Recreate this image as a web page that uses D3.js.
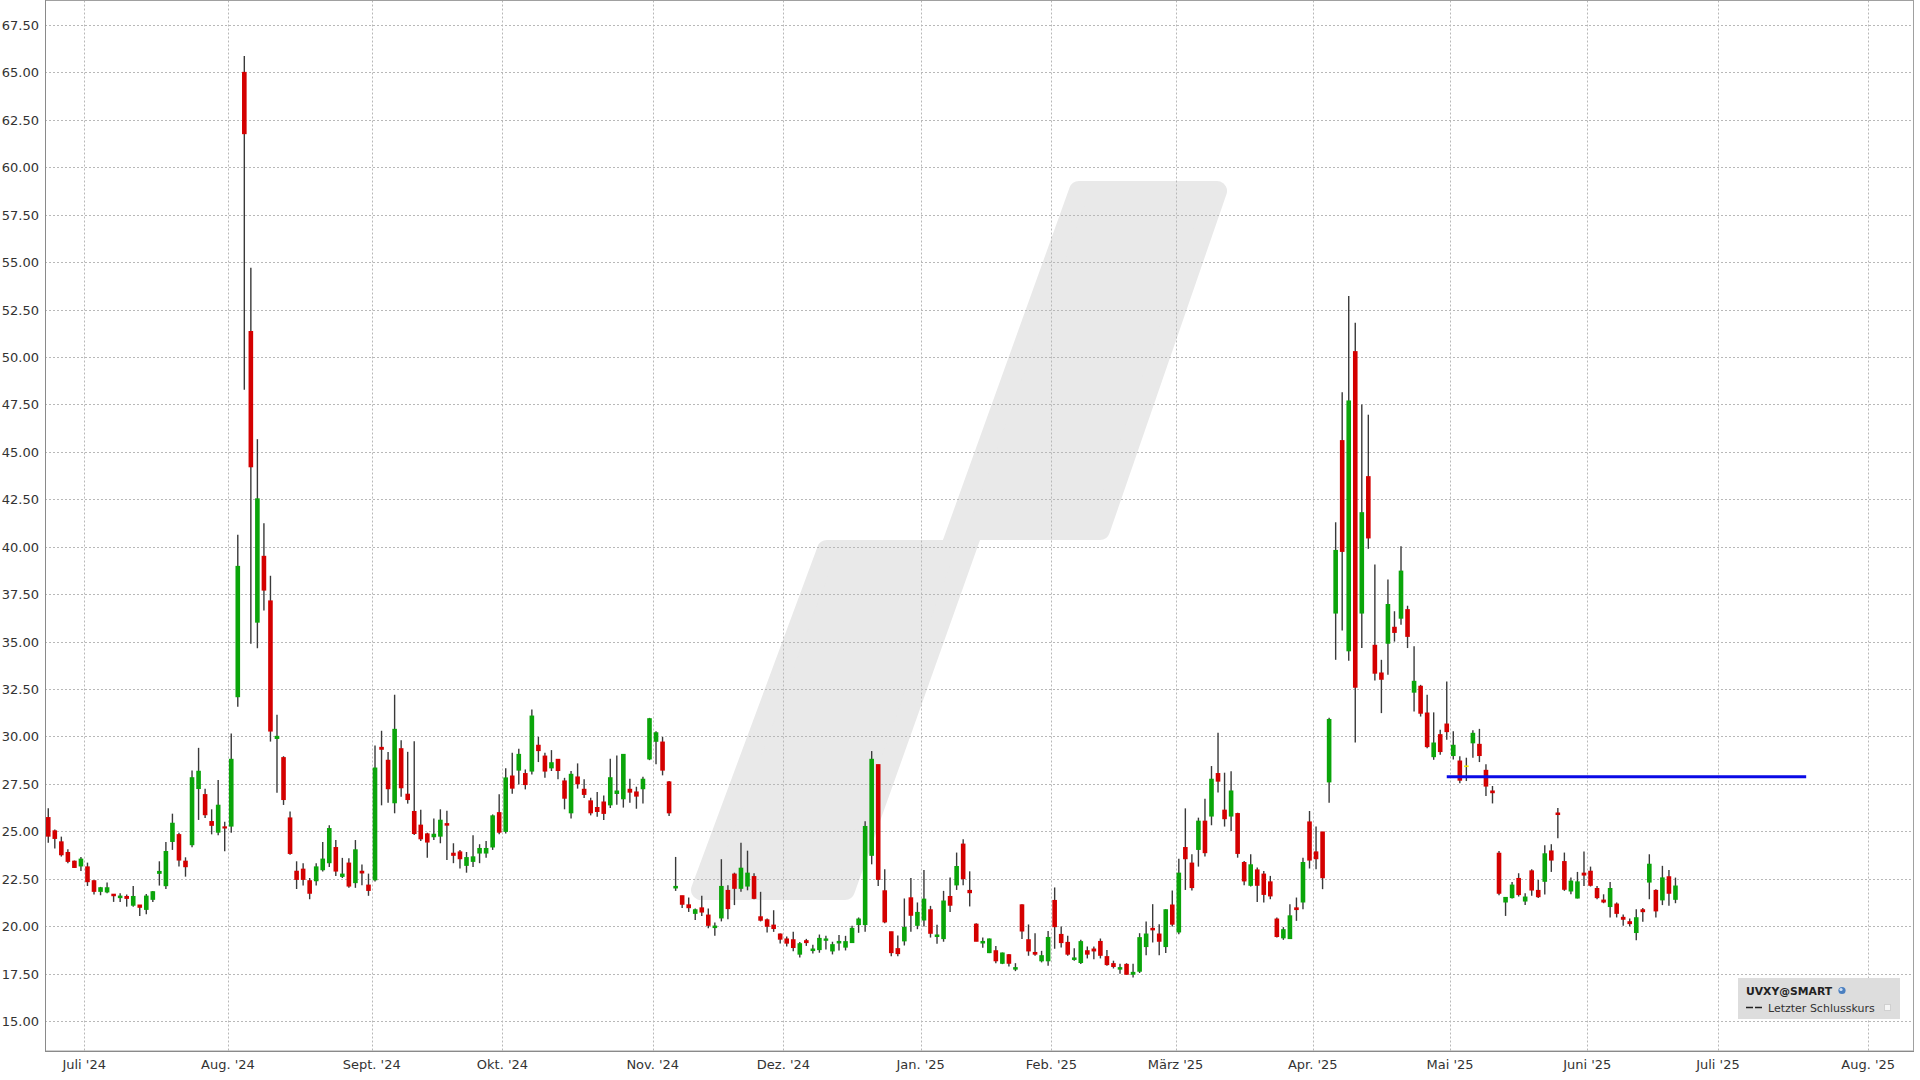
<!DOCTYPE html>
<html><head><meta charset="utf-8">
<script src="https://cdn.jsdelivr.net/npm/d3@7"></script>
<style>html,body{margin:0;padding:0;background:#fff;} svg{display:block;font-family:"DejaVu Sans",Verdana,sans-serif;}</style>
</head><body>
<svg id="chart" width="1920" height="1080"></svg>
<script>
// ---- DATA ----
const tradingDays = [
 ["2024-06", [21,24,25,26,27,28]],
 ["2024-07", [1,2,3,5,8,9,10,11,12,15,16,17,18,19,22,23,24,25,26,29,30,31]],
 ["2024-08", [1,2,5,6,7,8,9,12,13,14,15,16,19,20,21,22,23,26,27,28,29,30]],
 ["2024-09", [3,4,5,6,9,10,11,12,13,16,17,18,19,20,23,24,25,26,27,30]],
 ["2024-10", [1,2,3,4,7,8,9,10,11,14,15,16,17,18,21,22,23,24,25,28,29,30,31]],
 ["2024-11", [1,4,5,6,7,8,11,12,13,14,15,18,19,20,21,22,25,26,27,29]],
 ["2024-12", [2,3,4,5,6,9,10,11,12,13,16,17,18,19,20,23,24,26,27,30,31]],
 ["2025-01", [2,3,6,7,8,10,13,14,15,16,17,21,22,23,24,27,28,29,30,31]],
 ["2025-02", [3,4,5,6,7,10,11,12,13,14,18,19,20,21,24,25,26,27,28]],
 ["2025-03", [3,4,5,6,7,10,11,12,13,14,17,18,19,20,21,24,25,26,27,28,31]],
 ["2025-04", [1,2,3,4,7,8,9,10,11,14,15,16,17,21,22,23,24,25,28,29,30]],
 ["2025-05", [1,2,5,6,7,8,9,12,13,14,15,16,19,20,21,22,23,27,28,29,30]],
 ["2025-06", [2,3,4,5,6,9,10,11,12,13,16,17,18,20]]
];
// empty axis slots after the last candle
const futureDays = [
 ["2025-06", [23,24,25,26,27,30]],
 ["2025-07", [1,2,3,4,7,8,9,10,11,14,15,16,17,18,21,22,23,24,25,28,29,30,31]],
 ["2025-08", [1,4,5,6,7,8,11]]
];

const opens = [
 25.72,25.02,24.44,23.88,23.42,23.18,
 23.12,22.39,21.84,21.81,21.68,21.51,21.56,21.11,21.11,20.89,21.42,22.79,22.14,24.47,24.82,23.42,24.30,27.26,26.93,25.51,24.96,25.23,
 25.28,32.10,65.00,51.34,36.03,39.49,37.14,29.90,28.88,25.70,22.89,23.00,22.39,22.40,22.98,23.35,24.14,22.63,23.32,22.30,22.89,22.16,
 22.45,29.42,28.74,26.51,29.35,26.95,26.04,25.32,24.86,24.72,24.75,25.40,23.84,23.91,23.21,23.42,23.86,23.86,24.18,25.98,
 25.00,27.91,28.23,28.04,28.18,29.53,28.96,28.35,28.79,27.65,25.98,27.86,27.21,26.60,26.25,26.54,26.40,27.00,26.72,27.21,27.07,27.25,28.82,
 29.75,29.70,27.60,22.02,21.60,21.12,20.68,20.96,20.58,19.93,20.44,21.88,22.74,22.00,22.12,22.61,20.49,20.33,20.05,19.58,
 19.32,19.28,18.53,19.23,18.72,18.77,19.26,18.70,19.12,18.90,19.14,20.09,20.09,23.74,28.51,21.86,19.70,18.81,19.23,21.49,20.05,
 20.33,20.86,19.46,19.35,21.56,22.18,24.32,21.88,20.10,19.12,18.61,18.70,18.05,18.49,17.74,21.12,19.28,18.61,18.18,18.18,
 21.35,19.56,19.14,18.25,18.09,18.70,18.79,19.19,18.39,18.02,17.74,17.98,17.47,17.63,18.93,19.88,19.58,18.93,21.11,
 19.70,24.14,23.32,24.05,25.53,25.81,28.04,26.11,25.81,25.93,23.35,22.16,22.96,22.74,22.33,20.37,19.39,19.35,20.96,21.28,25.49,
 23.91,24.96,27.61,36.51,45.59,34.52,50.28,36.51,43.69,34.80,33.34,34.92,35.75,36.24,36.68,32.34,32.64,31.23,28.94,30.09,30.65,
 29.00,28.70,28.44,29.67,29.58,28.21,27.12,23.84,21.28,21.51,22.51,21.33,22.91,21.88,22.37,23.96,25.96,23.40,21.86,21.49,22.79,
 22.89,21.98,21.37,21.04,21.16,20.46,20.23,19.67,20.86,22.33,21.88,21.39,22.60,21.42
];
const highs = [
 26.21,25.10,24.72,24.05,23.46,23.65,
 23.35,22.42,22.07,22.30,21.68,21.74,21.67,22.12,21.11,21.70,21.86,23.42,24.44,25.93,24.93,23.63,28.21,29.40,27.25,26.16,27.70,25.51,
 30.16,40.63,65.87,54.70,45.67,41.24,38.47,31.15,28.96,26.05,23.42,23.32,22.54,23.32,24.44,25.32,24.54,23.60,23.58,24.54,23.25,22.77,
 29.53,30.30,29.18,32.20,29.80,29.19,29.75,26.14,24.93,25.67,26.16,26.09,24.37,24.02,23.91,24.79,24.32,24.49,25.89,26.95,
 28.32,29.14,29.35,28.26,31.42,29.98,29.14,29.28,28.79,27.82,28.18,28.58,27.74,26.77,27.07,26.89,28.82,29.00,29.05,27.77,27.35,27.88,30.98,
 30.28,29.98,27.65,23.65,21.60,21.51,20.93,21.60,20.93,20.19,23.53,22.16,22.82,24.40,23.98,22.79,21.81,20.40,20.84,19.61,
 19.46,19.70,19.16,19.33,19.02,19.56,19.49,19.18,19.53,19.49,20.02,20.46,25.53,29.23,28.51,23.00,19.70,19.51,21.46,22.54,21.25,
 22.96,21.07,20.07,21.86,22.56,23.88,24.58,22.89,20.16,19.40,19.35,18.96,18.61,18.53,18.05,21.16,20.09,19.63,18.70,19.75,
 22.04,19.98,19.49,18.84,19.28,18.93,18.93,19.35,18.75,18.18,18.02,18.05,18.02,19.63,20.25,21.16,20.10,20.89,21.88,
 23.56,26.21,23.79,25.72,26.72,28.44,30.19,28.09,28.16,25.98,23.44,23.79,23.09,22.91,22.65,20.46,19.95,21.16,21.51,23.60,26.07,
 25.25,24.96,30.98,41.29,48.15,53.22,51.81,47.50,46.96,39.06,34.04,38.27,36.60,40.03,36.89,34.75,32.72,32.20,31.27,30.35,32.90,
 30.28,28.96,28.88,30.33,30.40,28.53,27.39,23.96,21.51,22.33,22.79,21.74,23.00,22.44,24.26,24.32,26.23,23.88,22.56,22.86,23.93,
 23.14,22.12,21.68,22.33,21.25,20.61,20.40,20.89,20.96,23.79,21.95,23.18,22.96,22.56
];
const lows = [
 24.40,24.09,23.67,23.32,23.07,22.91,
 22.12,21.67,21.63,21.74,21.28,21.28,21.03,21.03,20.54,20.63,21.28,22.14,21.96,24.02,23.14,22.61,24.16,25.60,25.70,24.84,24.79,23.95,
 24.93,31.57,48.28,34.89,34.65,36.64,29.73,27.03,26.39,23.77,21.96,22.14,21.42,22.14,22.88,23.12,22.65,22.54,22.02,22.02,22.16,21.60,
 22.35,26.37,26.51,25.95,26.82,26.46,24.81,24.49,23.61,24.54,24.37,23.49,23.32,23.04,22.82,23.12,23.32,23.61,24.02,24.84,
 24.89,26.98,27.47,27.21,28.00,28.65,27.82,28.18,27.74,26.16,25.67,27.25,26.75,25.84,25.77,25.60,26.23,26.40,26.25,26.51,26.19,26.47,28.75,
 28.53,27.95,25.81,21.86,20.96,20.75,20.33,20.54,19.89,19.49,20.25,20.37,21.11,21.81,21.89,21.42,20.25,19.67,19.70,19.09,
 18.93,18.68,18.35,18.96,18.56,18.60,18.77,18.51,18.72,18.72,19.11,19.65,19.70,23.26,22.12,20.16,18.42,18.42,18.98,19.70,19.84,
 19.98,19.40,19.07,19.18,20.75,21.91,22.16,21.04,19.21,18.86,18.58,18.05,18.00,17.88,17.63,19.32,18.44,18.44,18.09,17.91,
 18.81,18.88,18.44,18.18,18.00,18.30,18.26,18.30,17.91,17.77,17.49,17.44,17.30,17.53,18.47,19.14,18.47,18.58,19.98,
 19.58,21.91,21.88,23.14,23.67,25.32,27.04,25.25,25.02,23.61,22.16,22.09,21.28,21.25,21.42,19.40,19.28,19.32,20.28,20.89,23.04,
 23.00,21.95,26.51,34.04,35.59,33.99,29.68,34.66,39.89,32.95,31.23,33.25,35.00,35.89,34.66,31.32,31.05,29.38,28.77,29.03,29.82,
 28.79,27.53,27.65,28.88,28.65,26.86,26.47,21.63,20.54,21.46,21.56,21.11,21.60,21.49,21.67,22.86,24.63,21.86,21.68,21.46,22.12,
 22.09,21.42,21.21,20.46,20.46,20.02,19.98,19.26,20.23,21.42,20.46,21.11,21.07,21.21
];
const closes = [
 24.75,24.63,23.77,23.42,23.10,23.53,
 22.35,21.84,22.02,22.02,21.61,21.58,21.47,21.56,21.00,21.58,21.81,22.88,23.93,25.42,23.49,23.14,27.82,28.16,25.88,25.32,26.37,25.18,
 28.79,38.96,61.78,44.22,42.52,37.72,30.29,30.00,26.68,23.84,22.47,22.47,21.74,23.12,23.53,25.14,22.91,22.74,22.12,24.02,22.81,21.89,
 28.33,29.33,27.25,30.37,27.30,26.68,24.89,24.61,24.44,24.84,25.58,25.33,23.74,23.56,23.61,23.65,24.09,24.09,25.81,24.96,
 27.81,27.28,29.05,27.47,31.07,29.26,28.18,28.61,28.21,26.75,28.00,27.51,26.95,25.98,26.05,25.95,27.82,27.12,29.05,27.07,26.86,27.74,30.93,
 30.19,28.23,25.98,22.09,21.16,20.98,20.86,20.75,20.05,20.00,22.09,20.93,22.00,23.05,22.79,21.47,20.32,20.00,19.88,19.32,
 19.11,18.88,19.07,19.14,18.79,19.35,19.32,19.02,19.19,19.18,19.88,20.37,25.25,28.79,22.47,20.23,18.61,18.56,19.93,20.58,20.72,
 21.42,19.63,19.53,21.32,21.11,23.14,22.51,21.77,19.21,19.19,19.32,18.18,18.58,18.05,17.81,19.75,18.70,18.53,18.44,19.40,
 19.98,19.14,18.53,18.32,19.18,18.53,18.70,18.47,17.98,17.88,17.81,17.47,17.56,19.39,19.58,19.81,19.21,20.86,20.11,
 22.79,23.56,22.04,25.53,23.88,27.74,27.65,25.67,27.12,23.84,22.39,23.23,22.16,21.68,21.60,19.46,19.81,20.54,20.88,23.35,23.49,
 23.56,22.56,30.89,39.80,39.76,47.68,32.60,41.79,40.47,33.34,33.02,36.95,35.49,38.71,35.28,32.90,31.23,29.47,29.65,29.21,30.26,
 29.53,27.70,28.44,30.16,29.00,27.39,27.04,21.74,21.51,22.16,21.67,21.53,21.91,21.56,23.81,23.49,25.89,21.95,22.37,22.33,22.70,
 22.16,21.51,21.28,21.98,20.68,20.37,20.14,20.44,20.77,23.26,20.81,22.54,21.74,22.11
];

const monthLabels = ["Juli '24","Aug. '24","Sept. '24","Okt. '24","Nov. '24","Dez. '24","Jan. '25","Feb. '25","März '25","Apr. '25","Mai '25","Juni '25","Juli '25","Aug. '25"];
const yTicks = [15,17.5,20,22.5,25,27.5,30,32.5,35,37.5,40,42.5,45,47.5,50,52.5,55,57.5,60,62.5,65,67.5];
const drawnLine = {from:"2025-04-30", to:"2025-07-18", value:27.88};
const legendTitle = "UVXY@SMART";
const legendItem = "Letzter Schlusskurs";

// ---- BUILD ----
const pad = n => String(n).padStart(2,"0");
const dates = [];
tradingDays.forEach(([m,ds]) => ds.forEach(d => dates.push(m+"-"+pad(d))));
const slots = dates.slice();
futureDays.forEach(([m,ds]) => ds.forEach(d => slots.push(m+"-"+pad(d))));

const candles = dates.map((d,i)=>({date:d,i,o:opens[i],h:highs[i],l:lows[i],c:closes[i]}));

const L=45, R=1914, T=0.5, B=1051;
const x = d3.scaleLinear().domain([0, slots.length]).range([L, R]);
const y = d3.scaleLinear().domain([13.42, 68.82]).range([B, 0]);

const svg = d3.select("#chart");
svg.append("rect").attr("width",1920).attr("height",1080).attr("fill","#fff");

// watermark
const wm = [[701,890],[845,890],[973,530],[1100,530],[1217,191],[1079,191],[950,550],[827,550]];
svg.append("path").attr("d","M"+wm.map(p=>p.join(",")).join("L")+"Z")
  .attr("fill","#e9e9e9").attr("stroke","#e9e9e9").attr("stroke-width",20).attr("stroke-linejoin","round");

// month ticks
const monthTicks = [];
for (let i=1;i<slots.length;i++){
  if (slots[i].slice(0,7)!==slots[i-1].slice(0,7)) monthTicks.push(i);
}
const g = svg.append("g");
// horizontal grid
g.selectAll("line.hg").data(yTicks).enter().append("line")
  .attr("x1",L).attr("x2",R).attr("y1",d=>Math.round(y(d))+0.5).attr("y2",d=>Math.round(y(d))+0.5)
  .attr("stroke","#b8b8b8").attr("stroke-dasharray","2,2").attr("stroke-width",1);
// vertical grid
g.selectAll("line.vg").data(monthTicks).enter().append("line")
  .attr("x1",d=>Math.round(x(d))+0.5).attr("x2",d=>Math.round(x(d))+0.5).attr("y1",T).attr("y2",B)
  .attr("stroke","#b8b8b8").attr("stroke-dasharray","2,2").attr("stroke-width",1);

// frame
svg.append("rect").attr("x",L+0.5).attr("y",0.5).attr("width",R-L-1).attr("height",B-0.5)
  .attr("fill","none").attr("stroke","#a0a0a0").attr("stroke-width",1);
svg.append("line").attr("x1",L+0.5).attr("x2",L+0.5).attr("y1",0).attr("y2",B+1).attr("stroke","#8a8a8a");
svg.append("line").attr("x1",L).attr("x2",R).attr("y1",B+0.5).attr("y2",B+0.5).attr("stroke","#8a8a8a");

// axis labels
svg.selectAll("text.yl").data(yTicks).enter().append("text")
  .attr("x",39).attr("y",d=>y(d)+5).attr("text-anchor","end")
  .attr("font-size",13).attr("fill","#333").text(d=>d3.format(".2f")(d));
svg.selectAll("text.xl").data(monthTicks).enter().append("text")
  .attr("x",d=>x(d)).attr("y",1069).attr("text-anchor","middle")
  .attr("font-size",13).attr("fill","#333").text((d,k)=>monthLabels[k]);

// candles
const bw = 4.6;
const cg = svg.append("g");
cg.selectAll("line.w").data(candles).enter().append("line")
  .attr("x1",d=>x(d.i+0.5)).attr("x2",d=>x(d.i+0.5))
  .attr("y1",d=>y(d.h)).attr("y2",d=>y(d.l))
  .attr("stroke","#3a3a3a").attr("stroke-width",1.4);
const col = d => d.c>d.o ? "#0aa50a" : (d.c<d.o ? "#d40000" : "#f2e600");
cg.selectAll("rect.b").data(candles).enter().append("rect")
  .attr("x",d=>x(d.i+0.5)-bw/2).attr("width",bw)
  .attr("y",d=>Math.min(y(d.o),y(d.c))-0.6)
  .attr("height",d=>Math.max(1.6, Math.abs(y(d.o)-y(d.c))+1.2))
  .attr("fill",col);

// drawn horizontal line
const i0 = slots.indexOf(drawnLine.from), i1 = slots.indexOf(drawnLine.to);
svg.append("line").attr("x1",x(i0+0.5)).attr("x2",x(i1+0.5))
  .attr("y1",y(drawnLine.value)).attr("y2",y(drawnLine.value))
  .attr("stroke","#0a0ae6").attr("stroke-width",3);

// legend
const lg = svg.append("g");
lg.append("rect").attr("x",1738).attr("y",978).attr("width",162).attr("height",41).attr("fill","#dddddd");
lg.append("text").attr("x",1746).attr("y",994.5).attr("font-size",10.8).attr("font-weight","bold").attr("fill","#222").text(legendTitle);
lg.append("circle").attr("cx",1842).attr("cy",990.5).attr("r",3.6).attr("fill","#4a7fc0");
lg.append("circle").attr("cx",1841).attr("cy",989.5).attr("r",1.6).attr("fill","#cfe0f5");
lg.append("line").attr("x1",1746).attr("x2",1763).attr("y1",1007.5).attr("y2",1007.5)
  .attr("stroke","#222").attr("stroke-width",1.6).attr("stroke-dasharray","7,2");
lg.append("text").attr("x",1768).attr("y",1011.5).attr("font-size",11).attr("fill","#333").text(legendItem);
lg.append("rect").attr("x",1884.5).attr("y",1004.5).attr("width",6).attr("height",6).attr("fill","#f6f6f6").attr("stroke","#d0d0d0");
</script>
</body></html>
